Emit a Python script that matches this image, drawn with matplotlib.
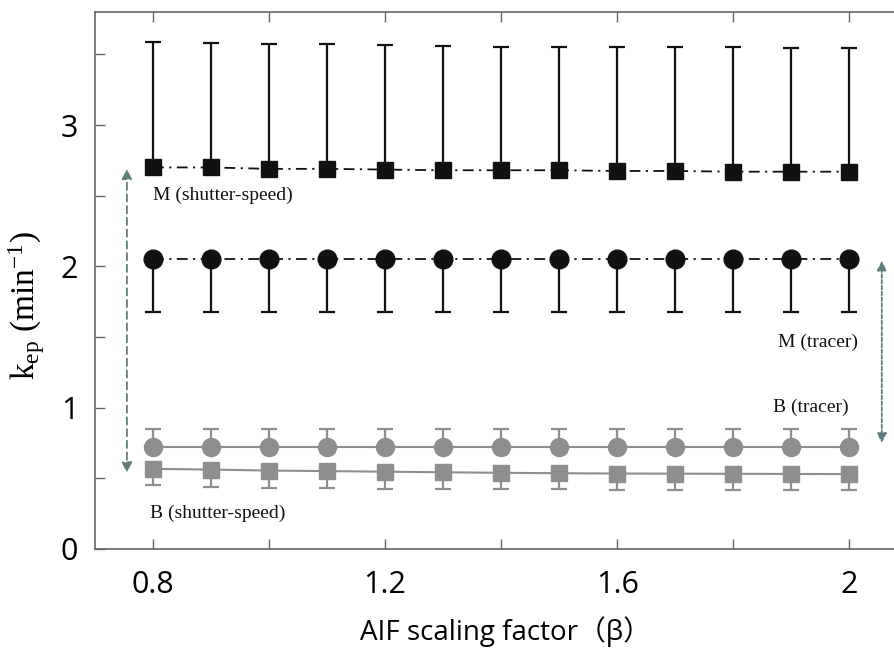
import numpy as np
import matplotlib
matplotlib.use("Agg")
import matplotlib.pyplot as plt

plt.rcParams['mathtext.fontset'] = 'custom'
plt.rcParams['mathtext.rm'] = 'Liberation Serif'
plt.rcParams['mathtext.it'] = 'Liberation Serif:italic'

beta = [0.8, 0.9, 1.0, 1.1, 1.2, 1.3, 1.4, 1.5, 1.6, 1.7, 1.8, 1.9, 2.0]

# M (shutter-speed): mean and upper error-bar end
m_ss = [2.70, 2.70, 2.69, 2.69, 2.685, 2.68, 2.68, 2.68, 2.675, 2.675, 2.67, 2.67, 2.67]
m_ss_top = [3.59, 3.58, 3.575, 3.57, 3.565, 3.56, 3.555, 3.555, 3.55, 3.55, 3.55, 3.545, 3.545]

# M (tracer): mean and lower error-bar end
m_tr = [2.055] * 13
m_tr_low = [1.68] * 13

# B (tracer): mean and upper error-bar end
b_tr = [0.723] * 13
b_tr_top = [0.851] * 13

# B (shutter-speed): mean and lower error-bar end
b_ss = [0.567, 0.562, 0.555, 0.551, 0.547, 0.543, 0.539, 0.536, 0.534, 0.533, 0.532, 0.531, 0.530]
b_ss_low = [0.454, 0.442, 0.434, 0.430, 0.427, 0.425, 0.423, 0.421, 0.420, 0.419, 0.419, 0.418, 0.418]

xticks = [0.8, 1.0, 1.2, 1.4, 1.6, 1.8, 2.0]
xticklabels = ['0.8', '', '1.2', '', '1.6', '', '2']
yticks = [0, 0.5, 1, 1.5, 2, 2.5, 3, 3.5]
yticklabels = ['0', '', '1', '', '2', '', '3', '']

black = '#111111'
gray = '#8e8e8e'
arrow_col = '#5f7b7a'

fig = plt.figure(figsize=(8.95, 6.52), dpi=100)
ax = fig.add_axes([0.1061, 0.158, 0.9077, 0.8236])

dashdot = (0, (6, 3, 1.2, 3))

# error bars (one-sided)
ax.vlines(beta, m_ss, m_ss_top, color=black, lw=1.6, zorder=2)
ax.plot(beta, m_ss_top, ls='none', marker='_', ms=12, mew=1.6, color=black, zorder=2)
ax.vlines(beta, m_tr_low, m_tr, color=black, lw=1.6, zorder=2)
ax.plot(beta, m_tr_low, ls='none', marker='_', ms=12, mew=1.6, color=black, zorder=2)
ax.vlines(beta, b_tr, b_tr_top, color=gray, lw=1.6, zorder=2)
ax.plot(beta, b_tr_top, ls='none', marker='_', ms=12, mew=1.6, color=gray, zorder=2)
ax.vlines(beta, b_ss_low, b_ss, color=gray, lw=1.6, zorder=2)
ax.plot(beta, b_ss_low, ls='none', marker='_', ms=12, mew=1.6, color=gray, zorder=2)

# series
ax.plot(beta, m_ss, ls=dashdot, lw=1.3, color=black, marker='s', ms=12,
        mfc=black, mec=black, zorder=3)
ax.plot(beta, m_tr, ls=dashdot, lw=1.3, color=black, marker='o', ms=13.5,
        mfc=black, mec=black, zorder=3)
ax.plot(beta, b_tr, ls='-', lw=1.5, color=gray, marker='o', ms=13,
        mfc=gray, mec=gray, zorder=3)
ax.plot(beta, b_ss, ls='-', lw=1.5, color=gray, marker='s', ms=11,
        mfc=gray, mec=gray, zorder=3)

# labels
tfont = dict(family='Liberation Serif', fontsize=14, color='#111111')
ax.text(0.80, 2.50, 'M (shutter-speed)', ha='left', va='center', **tfont)
ax.text(2.015, 1.46, 'M (tracer)', ha='right', va='center', **tfont)
ax.text(1.998, 1.00, 'B (tracer)', ha='right', va='center', **tfont)
ax.text(0.795, 0.255, 'B (shutter-speed)', ha='left', va='center', **tfont)

# double-headed dashed arrows
ax.annotate('', xy=(0.755, 0.54), xytext=(0.755, 2.69),
            arrowprops=dict(arrowstyle='<|-|>', color=arrow_col, lw=1.3,
                            ls=(0, (4, 2.5)), mutation_scale=15, shrinkA=0, shrinkB=0))
ax.annotate('', xy=(2.056, 0.75), xytext=(2.056, 2.04),
            arrowprops=dict(arrowstyle='<|-|>', color=arrow_col, lw=1.3,
                            ls=(0, (2, 1.2)), mutation_scale=14, shrinkA=0, shrinkB=0))

ax.set_xlim(0.7, 2.1)
ax.set_ylim(0, 3.8)
ax.set_xticks(xticks)
ax.set_xticklabels(xticklabels, family='Open Sans', fontsize=22)
ax.set_yticks(yticks)
ax.set_yticklabels(yticklabels, family='Open Sans', fontsize=22)
ax.tick_params(axis='x', direction='in', length=7, width=1, color='#666666',
               top=True, pad=15)
ax.tick_params(axis='y', direction='in', length=7, width=1, color='#666666', pad=12)
for side in ['left', 'bottom', 'top']:
    ax.spines[side].set_color('#666666')
    ax.spines[side].set_linewidth(1.2)
ax.spines['right'].set_visible(False)

fig.text(0.030, 0.532, r'k$_{\rm ep}$ (min$^{-1}$)', rotation=90, ha='center',
         va='center', family='Liberation Serif', fontsize=24)
fig.text(360 / 895, 0.031, 'AIF scaling factor（β）', ha='left', va='center',
         family=['Open Sans', 'Noto Sans CJK SC'], fontsize=20)

fig.savefig('out.png', dpi=100)
